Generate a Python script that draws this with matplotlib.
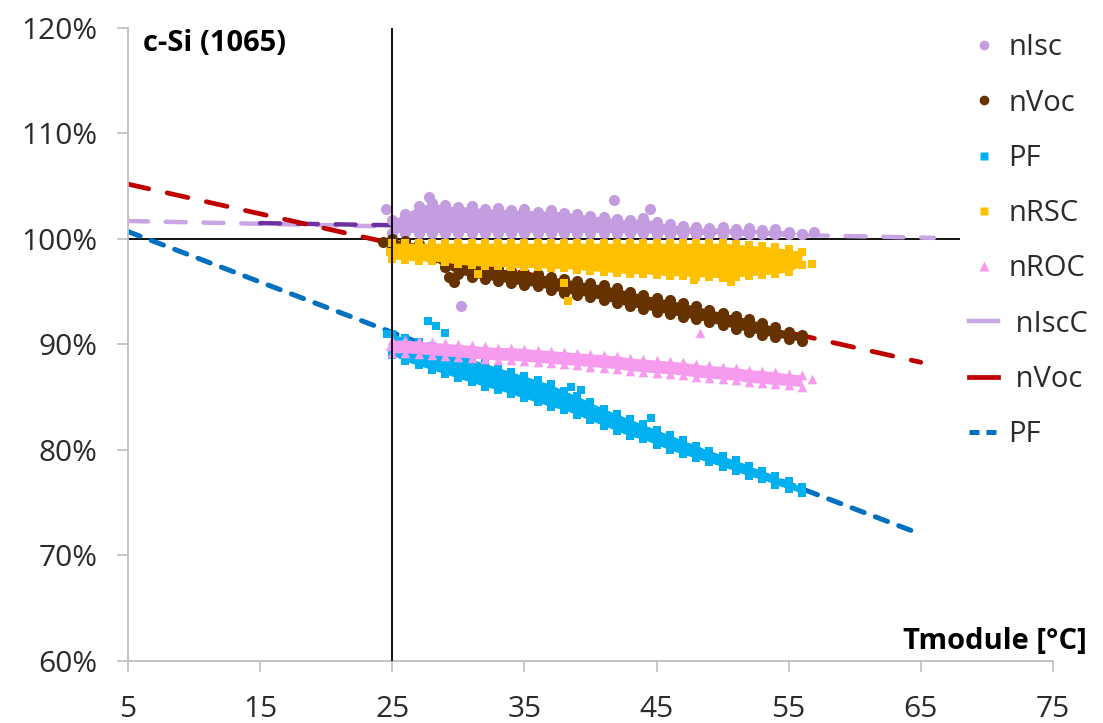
import matplotlib
matplotlib.use("Agg")
import matplotlib.pyplot as plt
from matplotlib.lines import Line2D

plt.rcParams['font.family'] = ['Open Sans', 'DejaVu Sans']

# module temperature grid of the measured clouds (deg C)
t_mod = [25, 26, 27, 28, 29, 30, 31, 32, 33, 34, 35, 36, 37, 38, 39, 40,
         41, 42, 43, 44, 45, 46, 47, 48, 49, 50, 51, 52, 53, 54, 55, 56]

# upper / lower edge of each measured cloud (%)
isc_hi = [101.8, 102.4, 103.1, 103.4, 103.2, 103.0, 103.1, 102.8, 102.9, 102.7, 102.8,
          102.6, 102.7, 102.5, 102.4, 102.2, 102.1, 101.9, 101.8, 102.0, 101.6, 101.4,
          101.2, 101.1, 101.0, 101.1, 100.9, 101.0, 100.8, 100.9, 100.7, 100.5]
isc_lo = [100.6, 100.6, 100.6, 100.6, 100.6, 100.6, 100.6, 100.6, 100.6, 100.6, 100.6,
          100.6, 100.6, 100.6, 100.6, 100.6, 100.6, 100.6, 100.6, 100.6, 100.5, 100.5,
          100.5, 100.5, 100.5, 100.5, 100.5, 100.5, 100.5, 100.5, 100.5, 100.5]

voc_hi = [100.0, 99.8, 99.5, 99.1, 98.5, 97.9, 97.6, 97.4, 97.2, 97.0, 96.8, 96.7,
          96.4, 96.2, 96.0, 95.8, 95.6, 95.3, 95.0, 94.7, 94.4, 94.2, 93.9, 93.6,
          93.3, 93.0, 92.7, 92.4, 92.0, 91.6, 91.2, 90.9]
voc_lo = [99.1, 98.8, 98.5, 98.1, 97.3, 96.7, 96.4, 96.2, 96.0, 95.8, 95.6, 95.5,
          95.2, 94.9, 94.7, 94.5, 94.2, 93.9, 93.6, 93.4, 93.1, 92.9, 92.6, 92.4,
          92.1, 91.8, 91.5, 91.2, 90.9, 90.7, 90.5, 90.3]

pf_hi = [91.0, 90.6, 90.2, 89.8, 89.4, 89.0, 88.6, 88.2, 87.8, 87.4, 87.0, 86.6,
         86.2, 85.6, 85.1, 84.5, 83.9, 83.4, 82.9, 82.4, 81.9, 81.4, 80.9, 80.4,
         79.9, 79.4, 79.0, 78.5, 78.0, 77.5, 77.0, 76.5]
pf_lo = [89.0, 88.4, 88.0, 87.6, 87.2, 86.8, 86.4, 86.0, 85.7, 85.3, 84.9, 84.5,
         84.1, 83.8, 83.3, 82.8, 82.3, 81.8, 81.3, 81.0, 80.5, 80.0, 79.6, 79.2,
         78.8, 78.4, 78.0, 77.5, 77.2, 76.7, 76.3, 75.9]

rsc_hi = [99.6, 99.6, 99.6, 99.6, 99.6, 99.6, 99.6, 99.6, 99.6, 99.6, 99.6, 99.6,
          99.6, 99.6, 99.6, 99.6, 99.6, 99.6, 99.6, 99.6, 99.6, 99.6, 99.6, 99.6,
          99.6, 99.6, 99.5, 99.4, 99.3, 99.2, 99.0, 98.8]
rsc_lo = [98.1, 98.0, 97.9, 97.9, 97.8, 97.6, 97.5, 97.4, 97.4, 97.3, 97.3, 97.3,
          97.2, 97.2, 97.1, 97.0, 96.9, 96.8, 96.7, 96.7, 96.6, 96.5, 96.5, 96.4,
          96.4, 96.3, 96.4, 96.5, 96.6, 96.7, 96.9, 97.5]

roc_hi = [90.4, 90.4, 90.3, 90.2, 90.1, 90.0, 89.9, 89.8, 89.7, 89.7, 89.6, 89.5,
          89.4, 89.3, 89.2, 89.1, 89.0, 88.9, 88.7, 88.6, 88.5, 88.4, 88.3, 88.1,
          88.0, 87.9, 87.8, 87.6, 87.5, 87.4, 87.2, 87.1]
roc_lo = [89.2, 89.2, 89.1, 89.0, 88.9, 88.8, 88.7, 88.6, 88.5, 88.5, 88.4, 88.3,
          88.2, 88.1, 88.0, 87.9, 87.8, 87.7, 87.5, 87.4, 87.3, 87.2, 87.1, 86.9,
          86.8, 86.7, 86.6, 86.4, 86.3, 86.2, 86.1, 86.0]

# isolated points outside the clouds
isc_out_x = [24.5, 27.8, 30.2, 41.8, 44.5, 56.9]
isc_out_y = [102.8, 104.0, 93.6, 103.7, 102.8, 100.7]
voc_out_x = [24.3, 29.3, 29.7]
voc_out_y = [99.7, 96.4, 95.9]
pf_out_x = [24.6, 27.7, 28.3, 29.0, 38.5, 39.3, 44.6]
pf_out_y = [91.0, 92.2, 91.7, 91.1, 86.0, 85.7, 83.0]
rsc_out_x = [24.8, 31.5, 38.0, 38.3, 47.8, 50.6, 56.8]
rsc_out_y = [98.8, 96.7, 95.8, 94.1, 96.1, 95.9, 97.6]
roc_out_x = [24.8, 48.3, 56.8]
roc_out_y = [89.8, 91.1, 86.7]

# fitted trend lines (end points)
isc_fit_x = [5, 66]
isc_fit_y = [101.7, 100.1]
isc_fit2_x = [15, 25]
isc_fit2_y = [101.5, 101.3]
voc_fit_x = [5, 65]
voc_fit_y = [105.2, 88.3]
pf_fit_x = [5, 65]
pf_fit_y = [100.7, 72.0]

x_ticks = [5, 15, 25, 35, 45, 55, 65, 75]
y_ticks = [60, 70, 80, 90, 100, 110, 120]

c_isc = '#C49DE0'
c_voc = '#663300'
c_pf = '#00B0F0'
c_rsc = '#FFC000'
c_roc = '#F79BEE'

fig = plt.figure(figsize=(11.03, 7.23), dpi=100)
ax = fig.add_axes([0.116, 0.0862, 0.8386, 0.875])

# reference cross at 25 degC / 100 %
ax.hlines(100, 5, 68, color='black', lw=1.3, zorder=1)
ax.axvline(25, color='black', lw=1.3, zorder=6)

# trend lines
ax.plot(isc_fit_x, isc_fit_y, color='#C9A5E3', lw=3.2, dashes=(4.5, 4),
        dash_capstyle='round', zorder=2)
ax.plot(isc_fit2_x, isc_fit2_y, color='#7030A0', lw=3.2, dashes=(4.5, 4),
        dash_capstyle='round', zorder=2)
ax.plot(voc_fit_x, voc_fit_y, color='#C00000', lw=3.4, dashes=(4.5, 4),
        dash_capstyle='round', zorder=2)
ax.plot(pf_fit_x, pf_fit_y, color='#0070C0', lw=3.6, dashes=(2.6, 2.4),
        dash_capstyle='round', zorder=2)

clouds = [
    (isc_hi, isc_lo, isc_out_x, isc_out_y, c_isc, 'o', 64),
    (voc_hi, voc_lo, voc_out_x, voc_out_y, c_voc, 'o', 64),
    (pf_hi, pf_lo, pf_out_x, pf_out_y, c_pf, 's', 38),
    (rsc_hi, rsc_lo, rsc_out_x, rsc_out_y, c_rsc, 's', 40),
    (roc_hi, roc_lo, roc_out_x, roc_out_y, c_roc, '^', 48),
]
for i, (hi, lo, ox, oy, col, mk, sz) in enumerate(clouds):
    z = 3 + i * 0.1
    ax.fill_between(t_mod, lo, hi, color=col, lw=0, zorder=z)
    ax.scatter(t_mod, hi, s=sz, marker=mk, color=col, lw=0, zorder=z)
    ax.scatter(t_mod, lo, s=sz, marker=mk, color=col, lw=0, zorder=z)
    ax.scatter(ox, oy, s=sz, marker=mk, color=col, lw=0, zorder=z)

ax.set_xlim(5, 75)
ax.set_ylim(60, 120)
ax.set_xticks(x_ticks)
ax.set_yticks(y_ticks)
ax.set_yticklabels([f'{v}%' for v in y_ticks])
for s in ['top', 'right']:
    ax.spines[s].set_visible(False)
for s in ['left', 'bottom']:
    ax.spines[s].set_color('#BFBFBF')
    ax.spines[s].set_linewidth(1.3)
ax.tick_params(axis='both', direction='out', length=8, width=1.2, color='#BFBFBF',
               labelsize=21.5, labelcolor='#2B2B2B')
ax.tick_params(axis='y', pad=14)
ax.tick_params(axis='x', pad=17)

ax.text(0.016, 0.976, 'c-Si (1065)', transform=ax.transAxes, fontsize=21,
        fontweight='bold', va='center', ha='left', color='black')
ax.text(1.037, 0.031, 'Tmodule [°C]', transform=ax.transAxes, fontsize=21,
        fontweight='bold', va='center', ha='right', color='black', clip_on=False)

handles = [
    Line2D([], [], ls='none', marker='o', ms=7, mec='none', color=c_isc),
    Line2D([], [], ls='none', marker='o', ms=7, mec='none', color=c_voc),
    Line2D([], [], ls='none', marker='s', ms=6, mec='none', color=c_pf),
    Line2D([], [], ls='none', marker='s', ms=6, mec='none', color=c_rsc),
    Line2D([], [], ls='none', marker='^', ms=7, mec='none', color=c_roc),
    Line2D([], [], color='#C9A5E3', lw=3.2),
    Line2D([], [], color='#C00000', lw=3.4),
    Line2D([], [], color='#0070C0', lw=3.6, dashes=(2.0, 1.4)),
]
labels = ['nIsc', 'nVoc', 'PF', 'nRSC', 'nROC', ' nIscC', ' nVoc', 'PF']
fig.legend(handles, labels, loc='upper left', bbox_to_anchor=(0.868, 0.970),
           frameon=False, fontsize=21, handlelength=1.0, handletextpad=0.35,
           labelspacing=0.9, borderaxespad=0, labelcolor='#2B2B2B')

fig.savefig('out.png', dpi=100)
